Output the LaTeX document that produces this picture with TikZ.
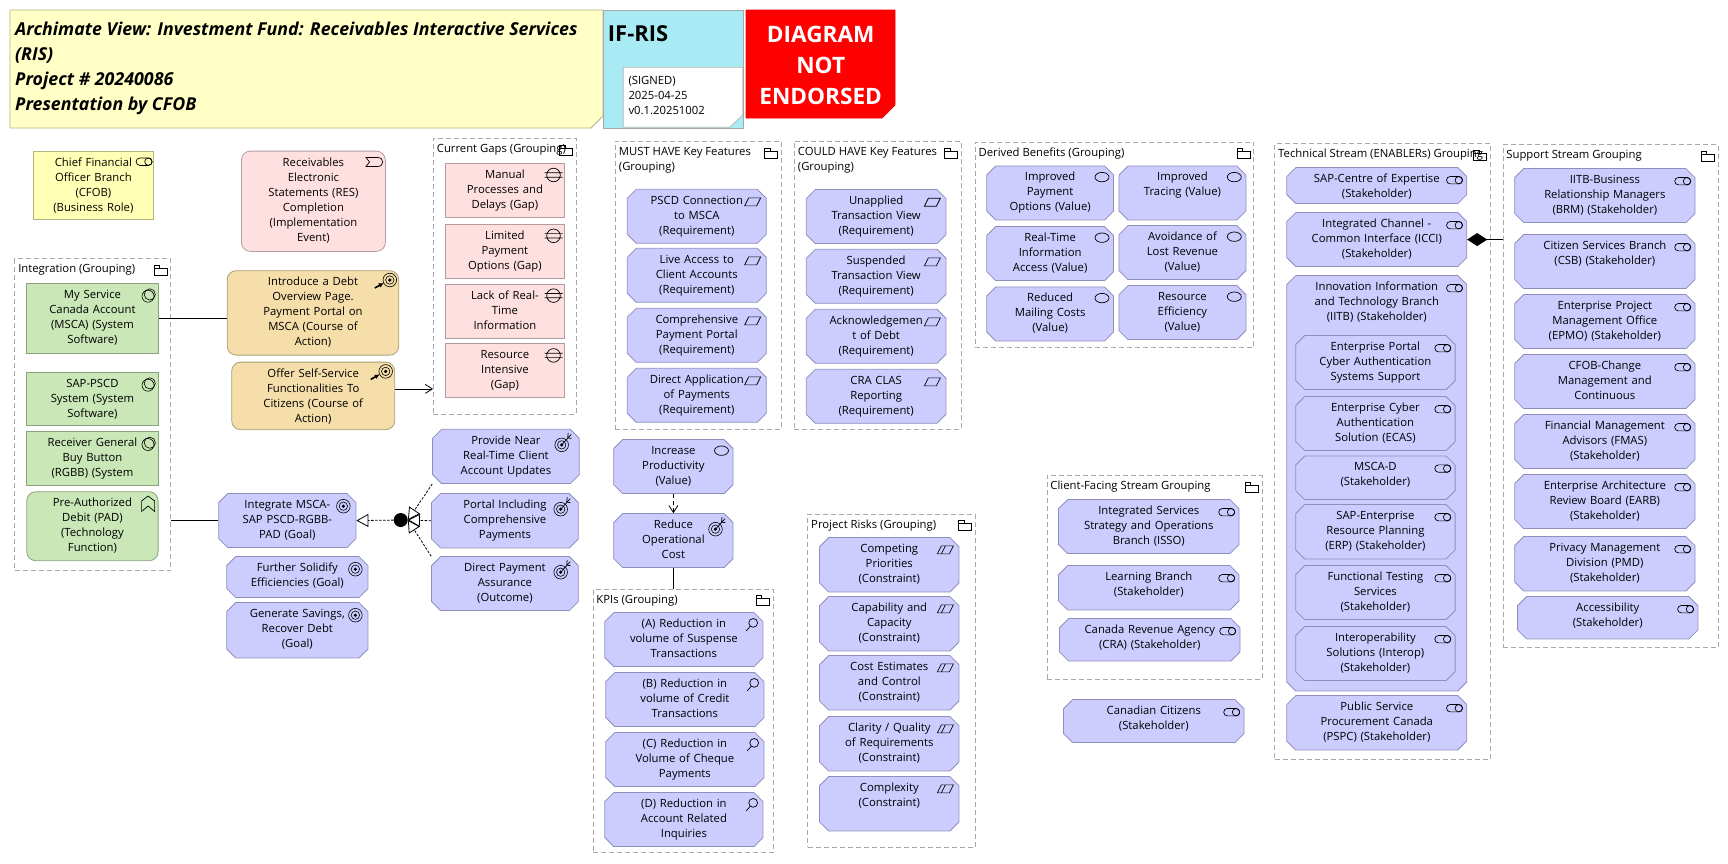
\documentclass[tikz,border=0pt]{standalone}
\usepackage{fontspec}
\setmainfont{Open Sans}
\usetikzlibrary{shapes.misc,arrows.meta,positioning,calc}
\definecolor{motif}{HTML}{CCCCFF}
\definecolor{motifline}{HTML}{8F8FBC}
\definecolor{gapfill}{HTML}{FFE0E0}
\definecolor{gapline}{HTML}{B39C9C}
\definecolor{techfill}{HTML}{C9E7B7}
\definecolor{techline}{HTML}{8CA180}
\definecolor{coafill}{HTML}{F5DEAA}
\definecolor{coaline}{HTML}{ABA077}
\definecolor{rolefill}{HTML}{FFFFB5}
\definecolor{roleline}{HTML}{B3B37F}
\definecolor{notefill}{HTML}{FFFFC6}
\definecolor{cyanfill}{HTML}{A9EBF4}
\definecolor{grpline}{HTML}{A8A8A8}
\tikzset{
  wh/.style 2 args={text width=#1pt, text height=15pt, text depth=#2pt-15pt},
  ow/.style 2 args={text width=#1pt-9pt, text height=10.5pt, text depth=#2pt-19.5pt},
  txt/.style={font=\fontsize{11.3}{15}\selectfont, align=center, inner sep=0pt, line width=.8pt},
  ico/.style n args={3}{append after command={(\tikzlastnode.east |- \tikzlastnode.north) pic[shift={(#1,#2)}] {#3}}},
  oct/.style={txt, chamfered rectangle, chamfered rectangle xsep=4.5pt, chamfered rectangle ysep=4.5pt, draw=motifline, fill=motif, xshift=4.5pt, yshift=-4.5pt},
  rnd/.style={txt, rectangle, rounded corners=9pt, draw=#1line, fill=#1fill},
  sqr/.style={txt, rectangle, draw=#1line, fill=#1fill},
  req/.style={oct, ico={-14}{13}{reqicon}},
  con/.style={oct, ico={-14}{12.7}{conicon}},
  val/.style={oct, ico={-12}{11.5}{valicon}},
  stk/.style={oct, ico={-12.7}{13}{stakeicon}},
  goal/.style={oct, ico={-13}{13}{goalicon}},
  outc/.style={oct, ico={-18}{16}{outicon}},
  kpi/.style={oct, ico={0}{0}{kpiicon}},
  gap/.style={sqr=gap, ico={-11.3}{12}{gapicon}},
  tech/.style={sqr=tech, ico={-9.7}{12.7}{sysicon}},
  coa/.style={rnd=coa, ico={-9.4}{9.7}{coaicon}},
  grp/.style 2 args={font=\fontsize{11.3}{15}\selectfont, rectangle, draw=grpline, dash pattern=on 5pt off 3pt, line width=.8pt, align=flush left,
    inner xsep=3.5pt, inner ysep=0pt, text width=#1pt-7pt, text height=14pt, text depth=#2pt-14pt, ico={-10.5}{12}{foldericon}},
  notebox/.style={line width=.8pt},
  plain/.style={line width=1pt},
  barb/.style={line width=.8pt, -{Straight Barb[length=7pt,width=9pt]}},
  realz/.style={line width=.8pt, dash pattern=on 2.5pt off 1.5pt, -{Triangle[open,length=12pt,width=13pt,fill=white]}},
  reqicon/.pic={\draw[line width=.7pt] (-8,4) -- (-4,-4) -- (8,-4) -- (4,4) -- cycle;},
  conicon/.pic={\draw[line width=.7pt] (-8,4) -- (-4,-4) -- (8,-4) -- (4,4) -- cycle (-4,4) -- (0,-4);},
  valicon/.pic={\draw[line width=.7pt] (0,0) ellipse[x radius=7pt, y radius=4.7pt];},
  stakeicon/.pic={\draw[line width=.7pt, rounded corners=3.7pt] (-8,-3.7) rectangle (8,3.7); \draw[line width=.7pt] (4.3,0) circle[radius=3.7pt];},
  goalicon/.pic={\draw[line width=.6pt] (0,0) circle[radius=6.8pt] (0,0) circle[radius=4.2pt]; \fill (0,0) circle[radius=1.8pt];},
  outicon/.pic={\draw[line width=.6pt] (0,0) circle[radius=6.8pt] (0,0) circle[radius=4.2pt]; \fill (0,0) circle[radius=1.8pt];
    \draw[line width=.7pt] (0,0) -- (9.5,-10.5) (6,-7) -- (10,-6.5) (6,-7) -- (6.5,-12);},
  coaicon/.pic={\draw[line width=.6pt] (0,0) circle[radius=6.8pt] (0,0) circle[radius=4.2pt]; \fill (0,0) circle[radius=1.8pt];
    \draw[line width=1.6pt, -{Latex[length=5pt,width=5pt]}] (-15,8) -- (-6,3);},
  gapicon/.pic={\draw[line width=.7pt] (0,0) circle[radius=6.8pt] (-9,-2.2) -- (9,-2.2) (-9,2.2) -- (9,2.2);},
  sysicon/.pic={\draw[line width=.6pt] (-.8,.8) circle[radius=6pt] (1,-1) circle[radius=5.6pt];},
  funcicon/.pic={\draw[line width=.7pt] (0,-8) -- (6.5,-3) -- (6.5,7.5) -- (0,2) -- (-6.5,7.5) -- (-6.5,-3) -- cycle;},
  eventicon/.pic={\draw[line width=.7pt] (-8.5,-4.5) -- (3,-4.5) .. controls (10,-4.5) and (10,4.5) .. (3,4.5) -- (-8.5,4.5) -- (-5,0) -- cycle;},
  kpiicon/.pic={\draw[line width=.7pt] (-10.2,10.7) circle[radius=4.4pt] (-13,14) -- (-17.2,18.7);},
  foldericon/.pic={\draw[line width=.7pt, solid] (-6.5,-5) rectangle (-1,-2) (-6.5,-2) rectangle (6.5,5);},
}
\begin{document}
\begin{tikzpicture}[x=1pt, y=-1pt, every node/.style={anchor=north west}]
  \useasboundingbox (0,0) rectangle (1728,863);

  \draw[notebox, draw=roleline, fill=notefill] (10,10) -- (603,10) -- (603,116) -- (591,128) -- (10,128) -- cycle;
  \node[inner sep=0pt, align=flush left, font=\fontsize{17.8}{25}\selectfont\bfseries\itshape, text width=586pt, text height=25pt] (title) at (15,10) {Archimate View: Investment Fund: Receivables Interactive Services\\(RIS)\\Project \# 20240086\\Presentation by CFOB};
  \node[rectangle, draw=grpline, fill=cyanfill, line width=.8pt, font=\fontsize{22}{25}\selectfont\bfseries, align=flush left, inner xsep=4.5pt, inner ysep=0pt, text width=130.7pt, text height=31pt, text depth=86.7pt] (ifris) at (603,10) {IF-RIS};
  \draw[notebox, draw=grpline!80, fill=white] (623.3,67.3) -- (742.7,67.3) -- (742.7,115) -- (729.7,127.3) -- (623.3,127.3) -- cycle;
  \node[inner sep=0pt, font=\fontsize{11.3}{15}\selectfont, align=flush left, text width=110pt, text height=17pt] (signed) at (628.3,67.3) {(SIGNED)\\2025-04-25\\v0.1.20251002};
  \draw[notebox, draw=red, fill=red] (746,10) -- (895,10) -- (895,105) -- (882,118) -- (746,118) -- cycle;
  \node[inner sep=0pt, text=white, font=\fontsize{22.6}{31}\selectfont\bfseries, align=center, text width=149pt, text height=32pt] (stamp) at (746,10) {DIAGRAM\\NOT\\ENDORSED};

  \node[sqr=role, wh={119.4}{68.6}, ico={-9.4}{11}{stakeicon}] (cfob) at (33.3,150.7) {Chief Financial\\Officer Branch\\(CFOB)\\(Business Role)};
  \node[rnd=gap, wh={144}{100.3}, ico={-11.3}{11.3}{eventicon}] (res) at (241,150.7) {Receivables\\Electronic\\Statements (RES)\\Completion\\(Implementation\\Event)};

  \node[grp={143}{276}] (gaps) at (433,138) {\mbox{Current Gaps (Grouping)}};
  \node[gap, wh={119}{54}] (gap1) at (445,163) {Manual\\Processes and\\Delays (Gap)};
  \node[gap, wh={119}{54}, below=6pt of gap1] (gap2) {Limited\\Payment\\Options (Gap)};
  \node[gap, wh={119}{54}, below=5pt of gap2] (gap3) {Lack of Real-\\Time\\Information};
  \node[gap, wh={119}{54}, below=5pt of gap3] (gap4) {Resource\\Intensive\\(Gap)};

  \node[grp={166}{288}] (must) at (615,141) {MUST HAVE Key Features\\(Grouping)};
  \node[req, ow={139}{54}] (must1) at (627,189) {PSCD Connection\\to MSCA\\(Requirement)};
  \node[req, ow={139}{54}] (must2) at (627,248) {Live Access to\\Client Accounts\\(Requirement)};
  \node[req, ow={139}{54}] (must3) at (627,308) {Comprehensive\\Payment Portal\\(Requirement)};
  \node[req, ow={139}{54}] (must4) at (627,368) {Direct Application\\of Payments\\(Requirement)};

  \node[grp={167}{288}] (could) at (794,141) {\mbox{COULD HAVE Key Features}\\(Grouping)};
  \node[req, ow={139.7}{54}] (could1) at (806,189.3) {Unapplied\\Transaction View\\(Requirement)};
  \node[req, ow={139.7}{54}] (could2) at (806,249) {Suspended\\Transaction View\\(Requirement)};
  \node[req, ow={139.7}{54}] (could3) at (806,309) {Acknowledgemen\\t of Debt\\(Requirement)};
  \node[req, ow={139.7}{54}] (could4) at (806,369) {CRA CLAS\\Reporting\\(Requirement)};

  \node[grp={156}{312}] (integ) at (14.4,258.3) {Integration (Grouping)};
  \node[tech, wh={131.3}{70.6}] (msca) at (26.4,282.7) {My Service\\Canada Account\\(MSCA) (System\\Software)};
  \node[tech, wh={131.3}{53.6}] (pscd) at (26.4,371.7) {SAP-PSCD\\System (System\\Software)};
  \node[tech, wh={131.3}{54.3}] (rgbb) at (26.4,431) {Receiver General\\Buy Button\\(RGBB) (System};
  \node[rnd=tech, wh={131.3}{69}, ico={-10.4}{12.7}{funcicon}] (pad) at (26.4,491.3) {Pre-Authorized\\Debit (PAD)\\(Technology\\Function)};

  \node[coa, wh={171.6}{84.4}] (debt) at (226.8,270.3) {Introduce a Debt\\Overview Page.\\Payment Portal on\\MSCA (Course of\\Action)};
  \node[coa, wh={163}{67.6}] (offer) at (231.3,361.7) {Offer Self-Service\\Functionalities To\\Citizens (Course of\\Action)};

  \node[goal, ow={137.3}{54}] (goal1) at (218.4,493.3) {Integrate MSCA-\\SAP PSCD-RGBB-\\PAD (Goal)};
  \node[goal, ow={141.3}{41}] (goal2) at (226.4,556.3) {Further Solidify\\Efficiencies (Goal)};
  \node[goal, ow={141.3}{55.4}] (goal3) at (226.4,602.3) {Generate Savings,\\Recover Debt\\(Goal)};

  \node[circle, fill=black, inner sep=0pt, minimum size=14pt, anchor=center] (junc) at (400.7,520) {};
  \node[outc, ow={146.7}{54.3}] (prov) at (432.3,429) {Provide Near\\Real-Time Client\\Account Updates};
  \node[outc, ow={146.7}{54.4}] (port) at (431.3,493.3) {Portal Including\\Comprehensive\\Payments};
  \node[outc, ow={146.7}{54}] (assur) at (431.3,556.3) {Direct Payment\\Assurance\\(Outcome)};

  \node[val, ow={119.4}{54}] (prod) at (613.4,439.3) {Increase\\Productivity\\(Value)};
  \node[outc, ow={119.4}{54}] (cost) at (613.4,513.3) {Reduce\\Operational\\Cost};

  \node[grp={180}{263.6}] (kpis) at (592.5,588.7) {KPIs (Grouping)};
  \node[kpi, ow={158.2}{54}] (kpia) at (604.5,612.3) {(A) Reduction in\\volume of Suspense\\Transactions};
  \node[kpi, ow={158.2}{54}] (kpib) at (605.5,672.3) {(B) Reduction in\\volume of Credit\\Transactions};
  \node[kpi, ow={158.2}{54}] (kpic) at (605.5,732.3) {(C) Reduction in\\Volume of Cheque\\Payments};
  \node[kpi, ow={158.2}{54}] (kpid) at (604.5,792.3) {(D) Reduction in\\Account Related\\Inquiries};

  \node[grp={167.4}{333}] (risks) at (807.3,513.7) {Project Risks (Grouping)};
  \node[con, ow={139.4}{54.4}] (risk1) at (819.3,537.3) {Competing\\Priorities\\(Constraint)};
  \node[con, ow={139.4}{54.4}] (risk2) at (819.3,596.3) {Capability and\\Capacity\\(Constraint)};
  \node[con, ow={139.4}{54.4}] (risk3) at (819.3,655.3) {Cost Estimates\\and Control\\(Constraint)};
  \node[con, ow={139.4}{54.4}] (risk4) at (819.3,716.3) {Clarity / Quality\\of Requirements\\(Constraint)};
  \node[con, ow={139.4}{54.4}] (risk5) at (819.3,776.3) {Complexity\\(Constraint)};

  \node[grp={278.7}{205.3}] (benef) at (974.7,141.7) {Derived Benefits (Grouping)};
  \node[val, ow={126.9}{54}] (ben1) at (986.4,165.7) {Improved\\Payment\\Options (Value)};
  \node[val, ow={126.9}{54}] (ben2) at (986.4,226.3) {Real-Time\\Information\\Access (Value)};
  \node[val, ow={126.9}{54}] (ben3) at (986.4,286.7) {Reduced\\Mailing Costs\\(Value)};
  \node[val, ow={126.9}{54}] (ben4) at (1118.7,165.7) {Improved\\Tracing (Value)};
  \node[val, ow={126.9}{54}] (ben5) at (1118.7,225.3) {Avoidance of\\Lost Revenue\\(Value)};
  \node[val, ow={126.9}{54}] (ben6) at (1118.7,285.3) {Resource\\Efficiency\\(Value)};

  \node[grp={215.4}{616}] (techs) at (1274.3,143.3) {\mbox{Technical Stream (ENABLERs) Grouping}};
  \node[stk, ow={180}{36}] (coe) at (1286.5,167.3) {SAP-Centre of Expertise\\(Stakeholder)};
  \node[stk, ow={180}{54}] (icci) at (1286.5,212.3) {Integrated Channel -\\Common Interface (ICCI)\\(Stakeholder)};
  \node[stk, ow={180}{415.4}] (iitb) at (1286.5,275.3) {Innovation Information\\and Technology Branch\\(IITB) (Stakeholder)};
  \node[stk, ow={159.4}{54}] (eauth) at (1295.4,335.3) {Enterprise Portal\\Cyber Authentication\\Systems Support};
  \node[stk, ow={159.4}{54}] (ecas) at (1295.4,396.3) {Enterprise Cyber\\Authentication\\Solution (ECAS)};
  \node[stk, ow={159.4}{43.6}] (mscad) at (1295.4,455.7) {MSCA-D\\(Stakeholder)};
  \node[stk, ow={159.4}{54.4}] (erp) at (1295.4,504.3) {SAP-Enterprise\\Resource Planning\\(ERP) (Stakeholder)};
  \node[stk, ow={159.4}{54}] (ftest) at (1295.4,565.3) {Functional Testing\\Services\\(Stakeholder)};
  \node[stk, ow={159.4}{54}] (interop) at (1295.4,626.3) {Interoperability\\Solutions (Interop)\\(Stakeholder)};
  \node[stk, ow={180}{54.4}] (pspc) at (1286.5,695.3) {Public Service\\Procurement Canada\\(PSPC) (Stakeholder)};

  \node[grp={215}{503}] (supp) at (1502.5,144.3) {Support Stream Grouping};
  \node[stk, ow={180.3}{54}] (brm) at (1514.4,168.3) {IITB-Business\\Relationship Managers\\(BRM) (Stakeholder)};
  \node[stk, ow={180.3}{54}] (csb) at (1514.4,234.3) {Citizen Services Branch\\(CSB) (Stakeholder)};
  \node[stk, ow={180.3}{54}] (epmo) at (1514.4,294.3) {Enterprise Project\\Management Office\\(EPMO) (Stakeholder)};
  \node[stk, ow={180.3}{54}] (chg) at (1514.4,354.3) {CFOB-Change\\Management and\\Continuous};
  \node[stk, ow={180.3}{54}] (fmas) at (1514.4,414.3) {Financial Management\\Advisors (FMAS)\\(Stakeholder)};
  \node[stk, ow={180.3}{54}] (earb) at (1514.4,474.3) {Enterprise Architecture\\Review Board (EARB)\\(Stakeholder)};
  \node[stk, ow={180.3}{54.4}] (pmd) at (1514.4,536.3) {Privacy Management\\Division (PMD)\\(Stakeholder)};
  \node[stk, ow={180.3}{42.4}] (acc) at (1517.3,596.3) {Accessibility\\(Stakeholder)};

  \node[grp={215}{203.4}] (client) at (1046.5,475.3) {Client-Facing Stream Grouping};
  \node[stk, ow={180.4}{54}] (isso) at (1058.3,499.3) {Integrated Services\\Strategy and Operations\\Branch (ISSO)};
  \node[stk, ow={180.4}{44.4}] (learn) at (1058.3,565.3) {Learning Branch\\(Stakeholder)};
  \node[stk, ow={180.4}{42.4}] (cra) at (1059.3,618.3) {Canada Revenue Agency\\(CRA) (Stakeholder)};
  \node[stk, ow={180.4}{43}] (citz) at (1063.3,699.3) {Canadian Citizens\\(Stakeholder)};

  \draw[plain] (msca.east) -- (msca.east -| debt.west);
  \coordinate (offerout) at ($(offer.east)+(0,-7)$);
  \draw[barb] (offerout) -- (offerout -| gaps.west);
  \draw[plain] (integ.east |- goal1) -- (goal1.west);
  \draw[realz] (junc) -- (goal1.east);
  \draw[realz] (prov.west |- prov.south) -- (junc.east);
  \draw[realz] (port.west) -- (junc.east);
  \draw[realz] (assur.west |- assur.north) -- (junc.east);
  \draw[barb, dash pattern=on 4pt off 3pt] (prod.south) -- (cost.north);
  \draw[plain] (cost.south) -- (cost.south |- kpis.north);
  \draw[line width=.8pt, -{Diamond[length=20pt,width=13pt]}] (supp.west |- icci) -- (icci.east);
\end{tikzpicture}
\end{document}
